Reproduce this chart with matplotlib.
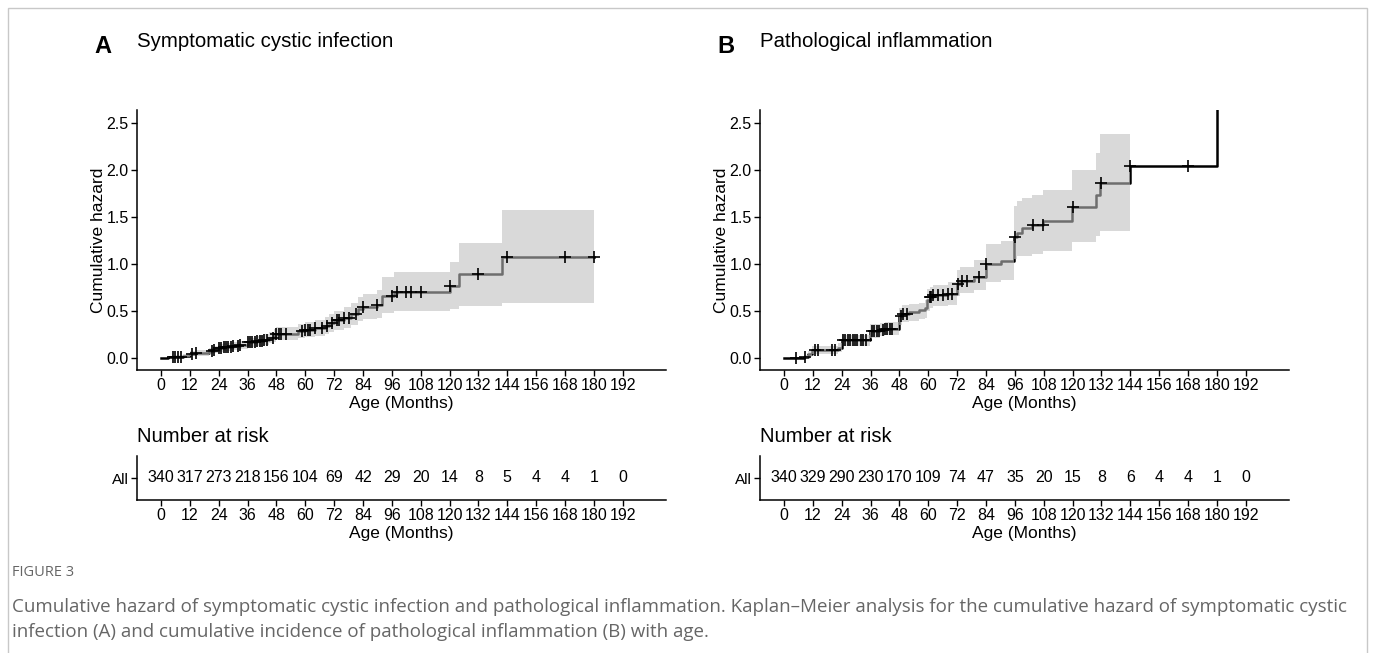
import numpy as np
import matplotlib
matplotlib.use("Agg")
import matplotlib.pyplot as plt
from matplotlib.patches import Rectangle

plt.rcParams['font.family'] = ['Liberation Sans', 'DejaVu Sans']

# ---------------- data ----------------
x_ticks = list(range(0, 193, 12))
y_ticks = [0.0, 0.5, 1.0, 1.5, 2.0, 2.5]

# Panel A: symptomatic cystic infection
a_times = [0, 3, 6, 9, 12, 14, 20, 22, 24, 26, 30, 33, 36, 40, 43, 45, 47, 48, 57, 60, 64, 68, 70, 72,
           76, 79, 82, 84, 90, 92, 97, 98, 120, 124, 142]
a_haz = [0, 0.006, 0.012, 0.025, 0.045, 0.055, 0.075, 0.09, 0.105, 0.115, 0.125, 0.14, 0.165, 0.18,
         0.195, 0.215, 0.24, 0.26, 0.285, 0.30, 0.32, 0.345, 0.37, 0.40, 0.43, 0.47, 0.52, 0.545, 0.565,
         0.66, 0.69, 0.705, 0.77, 0.89, 1.07]
a_lo = [0, 0.0, 0.0, 0.005, 0.018, 0.025, 0.04, 0.05, 0.065, 0.072, 0.08, 0.095, 0.115, 0.128, 0.14,
        0.155, 0.175, 0.19, 0.21, 0.222, 0.235, 0.255, 0.275, 0.30, 0.32, 0.35, 0.39, 0.41, 0.42, 0.475,
        0.497, 0.497, 0.517, 0.553, 0.58]
a_hi = [0, 0.015, 0.028, 0.045, 0.072, 0.085, 0.11, 0.13, 0.145, 0.155, 0.165, 0.185, 0.215, 0.232,
        0.25, 0.275, 0.305, 0.33, 0.36, 0.378, 0.405, 0.435, 0.465, 0.50, 0.54, 0.59, 0.65, 0.68, 0.72,
        0.858, 0.911, 0.911, 1.017, 1.227, 1.574]
a_end = 180
a_censor = [5, 6, 7, 8.5, 12.7, 14.5, 21, 22, 24, 25, 26, 27, 28, 29, 30, 32, 33, 36, 37, 38, 39, 40,
            41, 42, 43, 44, 46.5, 48, 49, 50, 52, 58.5, 60, 61, 62, 64, 67, 69, 71, 73, 74, 76, 78, 81,
            84, 90, 96, 98, 102, 104, 108, 120, 132, 144, 168, 180]
a_risk = [340, 317, 273, 218, 156, 104, 69, 42, 29, 20, 14, 8, 5, 4, 4, 1, 0]

# Panel B: pathological inflammation (last event: all remaining at risk -> infinite hazard)
b_times = [0, 8.5, 10, 11.5, 22.5, 24, 35.7, 40, 42, 47.8, 49, 52, 56, 58.5, 59.5, 60.5, 62, 68, 71.8,
           73, 79, 84, 90.3, 95.8, 97, 99, 103, 107.6, 119.7, 129.7, 131.5, 143.8, 180]
b_haz = [0, 0.012, 0.04, 0.085, 0.11, 0.19, 0.285, 0.30, 0.31, 0.445, 0.47, 0.49, 0.51, 0.535, 0.62,
         0.645, 0.665, 0.685, 0.79, 0.82, 0.865, 1.0, 1.03, 1.285, 1.33, 1.38, 1.41, 1.455, 1.61, 1.73,
         1.86, 2.045, np.inf]
b_lo = [0, 0.0, 0.01, 0.045, 0.065, 0.13, 0.215, 0.23, 0.24, 0.355, 0.38, 0.39, 0.41, 0.43, 0.50,
        0.535, 0.55, 0.565, 0.655, 0.69, 0.72, 0.81, 0.826, 1.05, 1.08, 1.09, 1.11, 1.14, 1.23, 1.30,
        1.35, np.nan, np.nan]
b_hi = [0, 0.03, 0.07, 0.125, 0.155, 0.245, 0.36, 0.375, 0.385, 0.535, 0.56, 0.575, 0.59, 0.615, 0.735,
        0.76, 0.78, 0.805, 0.935, 0.97, 1.04, 1.21, 1.24, 1.62, 1.67, 1.70, 1.73, 1.79, 2.0, 2.18, 2.38,
        np.nan, np.nan]
b_end = 180
b_censor = [5, 8.7, 12.8, 14, 20, 21, 24.5, 25.5, 26.5, 27.5, 28.5, 29.5, 30.5, 32, 33, 34, 36.5,
            37.5, 38.5, 39.5, 41, 42, 43, 44, 45, 48.5, 49.5, 51, 60.5, 61, 62, 64, 66, 68, 70, 72.5,
            74, 76, 81, 84, 96, 103.5, 107.5, 120, 132, 144, 168]
b_risk = [340, 329, 290, 230, 170, 109, 74, 47, 35, 20, 15, 8, 6, 4, 4, 1, 0]

titles = ["Symptomatic cystic infection", "Pathological inflammation"]
letters = ["A", "B"]

caption_head = "FIGURE 3"
caption_lines = [
    "Cumulative hazard of symptomatic cystic infection and pathological inflammation. Kaplan\u2013Meier analysis for the cumulative hazard of symptomatic cystic",
    "infection (A) and cumulative incidence of pathological inflammation (B) with age.",
]

# ---------------- figure ----------------
W, H = 1375, 653
fig = plt.figure(figsize=(W / 100, H / 100), dpi=100)
fig.patch.set_facecolor('white')


def px_axes(l, t, r, b):
    return fig.add_axes([l / W, 1 - b / H, (r - l) / W, (b - t) / H])


XLIM = (-10, 210)
YLIM = (-0.128, 2.638)
TICK_FS = 11.5


def style_axes(ax):
    for s in ['top', 'right']:
        ax.spines[s].set_visible(False)
    for s in ['left', 'bottom']:
        ax.spines[s].set_linewidth(1.1)
        ax.spines[s].set_color('black')
    ax.tick_params(direction='out', length=4, width=1.0, colors='black', labelsize=TICK_FS, pad=2)
    ax.set_xlim(*XLIM)
    ax.set_xticks(x_ticks)
    ax.set_xticklabels([str(v) for v in x_ticks])


def step_pairs(t, v, tend):
    xs, ys = [], []
    for i in range(len(t)):
        t1 = t[i + 1] if i + 1 < len(t) else tend
        xs += [t[i], t1]
        ys += [v[i], v[i]]
    return np.array(xs, float), np.array(ys, float)


def draw_panel(left_px, times, haz, lo, hi, tend, censor, risk, title, letter):
    ax = px_axes(left_px, 110, left_px + 529, 370)
    style_axes(ax)
    ax.set_ylim(*YLIM)
    ax.set_yticks(y_ticks)
    ax.set_yticklabels([f"{v:.1f}" for v in y_ticks])
    ax.set_ylabel("Cumulative hazard", fontsize=12.5, labelpad=0.5)
    ax.set_xlabel("Age (Months)", fontsize=12.5, labelpad=2)

    haz_arr = np.array(haz, float)
    top = YLIM[1] + 0.5
    haz_plot = np.where(np.isinf(haz_arr), top, haz_arr)
    xs_line = list(times)
    ys_line = list(haz_plot)
    if times[-1] < tend:
        xs_line.append(tend)
        ys_line.append(haz_plot[-1])
    ax.step(xs_line, ys_line, where='post', color='black', lw=1.8, zorder=2, clip_on=True)

    xs, los = step_pairs(times, lo, tend)
    _, his = step_pairs(times, hi, tend)
    ax.fill_between(xs, los, his, color='#bebebe', alpha=0.58, lw=0, zorder=3)

    idx = np.searchsorted(np.array(times, float), np.array(censor, float), side='right') - 1
    cy = haz_plot[idx]
    ax.plot(censor, cy, linestyle='none', marker='+', color='black', ms=9, mew=1.2, zorder=4)

    # titles
    fig.text((left_px - 34) / W, 1 - 53 / H, letter, fontsize=17, fontweight='bold',
             ha='center', va='baseline')
    fig.text(left_px / W, 1 - 47 / H, title, fontsize=14.7, ha='left', va='baseline')

    # risk table
    rt = px_axes(left_px, 456, left_px + 529, 500)
    style_axes(rt)
    rt.set_ylim(0, 1)
    rt.set_yticks([0.5])
    rt.set_yticklabels(["All"], fontsize=11)
    for xt, n in zip(x_ticks, risk):
        rt.text(xt, 0.5, str(n), ha='center', va='center', fontsize=TICK_FS)
    rt.set_xlabel("Age (Months)", fontsize=12.5, labelpad=2)
    fig.text(left_px / W, 1 - 436 / H, "Number at risk", fontsize=14.6, ha='left', va='center')
    return ax


draw_panel(137, a_times, a_haz, a_lo, a_hi, a_end, a_censor, a_risk, titles[0], letters[0])
draw_panel(760, b_times, b_haz, b_lo, b_hi, b_end, b_censor, b_risk, titles[1], letters[1])

# border frame
fig.patches.append(Rectangle((8 / W, -0.05), (1367 - 8) / W, 1.05 - 8 / H, transform=fig.transFigure,
                             fill=False, edgecolor='#c8c8c8', lw=1.0))

# caption
fig.text(12 / W, 1 - 572 / H, caption_head, fontsize=10.5, color='#666666', ha='left', va='center',
         family=['Open Sans', 'DejaVu Sans'])
for i, line in enumerate(caption_lines):
    fig.text(12 / W, 1 - (607 + 25 * i) / H, line, fontsize=13.5, color='#666666', ha='left',
             va='center', family=['Open Sans', 'DejaVu Sans'])

fig.savefig("out.png", dpi=100, facecolor='white')
